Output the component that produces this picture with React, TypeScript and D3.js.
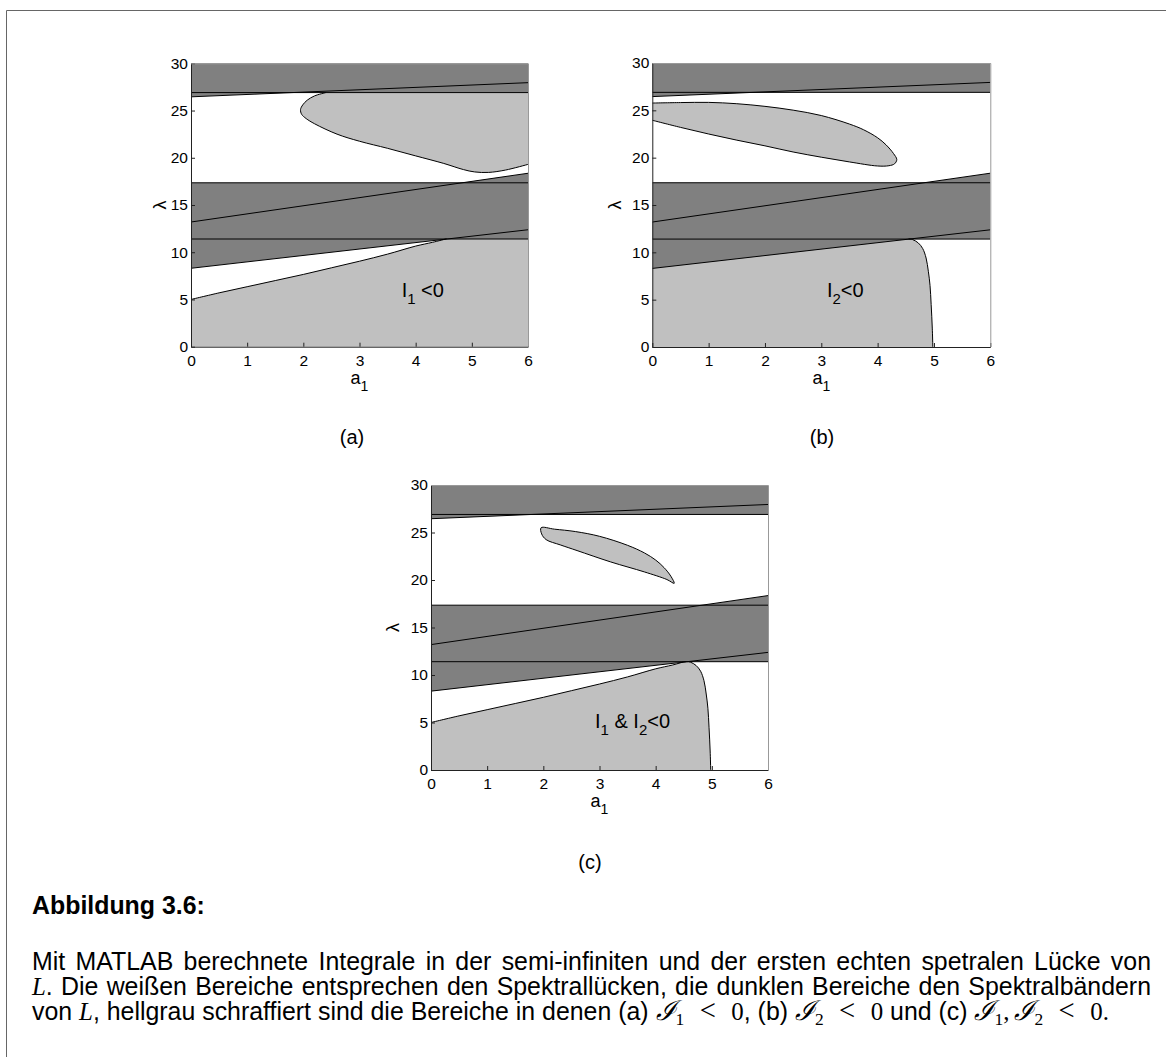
import React, { useEffect, useRef } from 'react';
import * as d3 from 'd3';

// spectral band edges, sampled at a1 = 0 and a1 = 6
const bandA1 = [0, 6];
const upperFlatEdge = [26.9, 26.9];
const upperSlopedEdge = [26.45, 27.95];
const midFlatTop = [17.35, 17.35];
const midFlatBottom = [11.4, 11.4];
const midSlopedTop = [13.2, 18.36];
const midSlopedBottom = [8.3, 12.38];

// I1 < 0 : boundary in the semi-infinite gap
const i1LowA = [0, 0.5, 1, 1.5, 2, 2.5, 3, 3.5, 4, 4.3, 4.55];
const i1LowL = [5.0, 5.7, 6.35, 7.0, 7.65, 8.35, 9.05, 9.8, 10.65, 11.05, 11.42];

// I1 < 0 : boundary in the first gap (band edge -> nose -> a1 = 6)
const i1UpA = [2.4, 2.2, 2.07, 1.99, 1.95, 1.97, 2.05, 2.2, 2.6, 3.0, 3.5, 4.0, 4.5, 4.85, 5.05, 5.3, 5.6, 6.0];
const i1UpL = [26.9, 26.55, 26.1, 25.6, 25.1, 24.6, 24.15, 23.6, 22.5, 21.75, 21.0, 20.2, 19.4, 18.75, 18.5, 18.45, 18.7, 19.3];

// I2 < 0 : lobe in the first gap (top edge, then back along the bottom)
const i2LobeA = [0, 0.5, 1, 1.5, 2, 2.5, 3, 3.5, 3.75, 4.0, 4.15, 4.28, 4.34, 4.3, 4.2, 4.0, 3.5, 3.0, 2.5, 2.0, 1.5, 1.0, 0.5, 0];
const i2LobeL = [25.77, 25.82, 25.84, 25.7, 25.42, 25.02, 24.45, 23.55, 22.95, 22.1, 21.35, 20.45, 19.8, 19.35, 19.15, 19.12, 19.55, 20.05, 20.6, 21.25, 21.85, 22.5, 23.2, 23.95];

// I2 < 0 : right edge in the semi-infinite gap
const i2EdgeA = [4.55, 4.62, 4.72, 4.8, 4.86, 4.9, 4.93, 4.95, 4.97, 4.98];
const i2EdgeL = [11.42, 11.35, 11.0, 10.4, 9.4, 8.0, 6.5, 4.5, 2.0, 0];

// I1 & I2 < 0 : lens in the first gap
const lensA = [1.96, 2.2, 2.57, 3.0, 3.5, 3.8, 4.0, 4.15, 4.27, 4.33, 4.2, 3.8, 3.2, 2.6, 2.3, 2.05, 1.97];
const lensL = [25.5, 25.35, 25.1, 24.6, 23.65, 22.85, 22.1, 21.3, 20.4, 19.65, 20.05, 20.85, 21.9, 23.1, 23.7, 24.25, 24.85];

const xTicks = [0, 1, 2, 3, 4, 5, 6];
const yTicks = [0, 5, 10, 15, 20, 25, 30];

const DARK = '#808080';
const LIGHT = '#c0c0c0';
const SANS = "'Liberation Sans', Arial, Helvetica, sans-serif";
const SERIF = "'Liberation Serif', 'DejaVu Serif', serif";

const zip = (xs: number[], ys: number[]) => xs.map((v, i) => [v, ys[i]] as [number, number]);

type Region = { head?: [number, number][]; curve: [number, number][]; tail?: [number, number][]; closed?: boolean };
type Panel = {
  key: string; left: number; top: number; width: number; height: number;
  lamDx: number; tag: string; tagX: number; tagY: number;
  label: { a: number; l: number; parts: { t: string; sub?: boolean }[] };
  regions: Region[];
};

const panels: Panel[] = [
  {
    key: 'a', left: 191, top: 63.3, width: 337, height: 283.4, lamDx: -31, tag: '(a)', tagX: 352, tagY: 444,
    label: { a: 3.75, l: 5.3, parts: [{ t: 'I' }, { t: '1', sub: true }, { t: '\u00a0<0' }] },
    regions: [
      { curve: zip(i1LowA, i1LowL), tail: [[6, midFlatBottom[1]], [6, 0], [0, 0]] },
      { curve: zip(i1UpA, i1UpL), tail: [[6, upperFlatEdge[1]]] },
    ],
  },
  {
    key: 'b', left: 652.3, top: 63, width: 338, height: 284, lamDx: -38, tag: '(b)', tagX: 822, tagY: 444,
    label: { a: 3.1, l: 5.3, parts: [{ t: 'I' }, { t: '2', sub: true }, { t: '<0' }] },
    regions: [
      { curve: zip(i2LobeA, i2LobeL) },
      { head: [[0, 0], [0, midSlopedBottom[0]]], curve: zip(i2EdgeA, i2EdgeL) },
    ],
  },
  {
    key: 'c', left: 431, top: 485, width: 337, height: 285, lamDx: -38, tag: '(c)', tagX: 590, tagY: 869,
    label: { a: 2.92, l: 4.4, parts: [{ t: 'I' }, { t: '1', sub: true }, { t: ' & I' }, { t: '2', sub: true }, { t: '<0' }] },
    regions: [
      { curve: zip(lensA, lensL), closed: true },
      { curve: zip(i1LowA, i1LowL).concat(zip(i2EdgeA, i2EdgeL).slice(1)), tail: [[0, 0]] },
    ],
  },
];

// caption (m: math in serif, s: script letter, sub: subscript, gap: extra math space in em)
const headingText = 'Abbildung 3.6:';
type Seg = { t: string; m?: boolean; s?: boolean; sub?: boolean; gap?: number; big?: boolean };
const lessThanZero: Seg[] = [{ t: '<', m: true, gap: 0.62, big: true }, { t: '0', m: true, gap: 0.62 }];
const captionLines: Seg[][] = [
  [{ t: 'Mit MATLAB berechnete Integrale in der semi-infiniten und der ersten echten spetralen Lücke von' }],
  [{ t: 'L', m: true }, { t: '. Die weißen Bereiche entsprechen den Spektrallücken, die dunklen Bereiche den Spektralbändern' }],
  [
    { t: 'von ' }, { t: 'L', m: true }, { t: ', hellgrau schraffiert sind die Bereiche in denen (a) ' },
    { t: 'ℐ', s: true }, { t: '1', sub: true }, ...lessThanZero, { t: ', (b) ' },
    { t: 'ℐ', s: true }, { t: '2', sub: true }, ...lessThanZero, { t: ' und (c) ' },
    { t: 'ℐ', s: true }, { t: '1', sub: true }, { t: ',', m: true },
    { t: 'ℐ', s: true, gap: 0.2 }, { t: '2', sub: true }, ...lessThanZero, { t: '.', m: true },
  ],
];

function drawPanel(svg: any, p: Panel) {
  const x = d3.scaleLinear().domain([0, 6]).range([p.left, p.left + p.width]);
  const y = d3.scaleLinear().domain([0, 30]).range([p.top + p.height, p.top]);
  const clipId = 'clip-' + p.key;
  svg.append('clipPath').attr('id', clipId).append('rect')
    .attr('x', p.left).attr('y', p.top).attr('width', p.width).attr('height', p.height);
  const g = svg.append('g').attr('clip-path', `url(#${clipId})`);

  const smooth = d3.line<[number, number]>().x(d => x(d[0])).y(d => y(d[1])).curve(d3.curveCatmullRom.alpha(0.5));
  const smoothClosed = d3.line<[number, number]>().x(d => x(d[0])).y(d => y(d[1])).curve(d3.curveCatmullRomClosed.alpha(0.5));
  const straight = d3.line<[number, number]>().x(d => x(d[0])).y(d => y(d[1]));

  // light grey: region where the integral is negative
  p.regions.forEach(r => {
    let d: string;
    if (r.closed) d = smoothClosed(r.curve)!;
    else {
      const c = smooth(r.curve)!;
      d = r.head ? straight(r.head)! + c.replace(/^M/, 'L') : c;
      if (r.tail) d += straight(r.tail)!.replace(/^M/, 'L');
      d += 'Z';
    }
    g.append('path').attr('d', d).attr('fill', LIGHT);
  });

  // dark grey: spectral bands
  const yMax = y.domain()[1];
  const toTop = d3.area<number>().x((_, i) => x(bandA1[i])).y0(d => y(d)).y1(y(yMax));
  g.append('path').attr('d', toTop(upperFlatEdge)).attr('fill', DARK);
  g.append('path').attr('d', toTop(upperSlopedEdge)).attr('fill', DARK);
  const between = (lo: number[], hi: number[]) =>
    d3.area<number>().x((_, i) => x(bandA1[i])).y0(d => y(d)).y1((_, i) => y(hi[i]))(lo);
  g.append('path').attr('d', between(midFlatBottom, midFlatTop)).attr('fill', DARK);
  g.append('path').attr('d', between(midSlopedBottom, midSlopedTop)).attr('fill', DARK);

  const edge = d3.line<number>().x((_, i) => x(bandA1[i])).y(d => y(d));
  [upperFlatEdge, upperSlopedEdge, midFlatTop, midFlatBottom, midSlopedTop, midSlopedBottom].forEach(e => {
    g.append('path').attr('d', edge(e)).attr('fill', 'none').attr('stroke', '#000').attr('stroke-width', 1);
  });

  // outlines of the light regions
  p.regions.forEach(r => {
    g.append('path').attr('d', r.closed ? smoothClosed(r.curve) : smooth(r.curve))
      .attr('fill', 'none').attr('stroke', '#000').attr('stroke-width', 1);
  });

  // label inside the plot
  const lt = svg.append('text').attr('x', x(p.label.a)).attr('y', y(p.label.l))
    .attr('font-family', SANS).attr('font-size', 20).attr('fill', '#000');
  let shifted = false;
  p.label.parts.forEach(part => {
    const ts = lt.append('tspan').text(part.t);
    if (part.sub) { ts.attr('font-size', 15).attr('dy', 7); shifted = true; }
    else if (shifted) { ts.attr('dy', -7); shifted = false; }
  });

  // axes
  const bottom = p.top + p.height;
  const xa = svg.append('g').attr('transform', `translate(0,${bottom})`)
    .call(d3.axisBottom(x).tickValues(xTicks).tickFormat(d3.format('d')).tickSizeInner(-4).tickSizeOuter(0).tickPadding(8));
  const ya = svg.append('g').attr('transform', `translate(${p.left},0)`)
    .call(d3.axisLeft(y).tickValues(yTicks).tickFormat(d3.format('d')).tickSizeInner(-4).tickSizeOuter(0).tickPadding(3));
  [xa, ya].forEach(ax => {
    ax.attr('font-family', SANS).attr('font-size', 15.5).attr('color', '#222');
    ax.selectAll('text').attr('fill', '#000');
  });
  svg.append('path')
    .attr('d', `M${p.left},${p.top + 0.5}H${p.left + p.width + 0.5}V${bottom}`)
    .attr('fill', 'none').attr('stroke', '#999').attr('stroke-width', 1);

  // axis titles
  const xt = svg.append('text').attr('x', p.left + p.width / 2).attr('y', bottom + 37)
    .attr('text-anchor', 'middle').attr('font-family', SANS).attr('font-size', 18);
  xt.append('tspan').text('a');
  xt.append('tspan').attr('font-size', 14).attr('dy', 7).text('1');
  svg.append('text')
    .attr('transform', `translate(${p.left + p.lamDx},${p.top + p.height / 2}) rotate(-90)`)
    .attr('text-anchor', 'middle').attr('dy', '0.35em')
    .attr('font-family', SANS).attr('font-size', 18).text('λ');

  svg.append('text').attr('x', p.tagX).attr('y', p.tagY).attr('text-anchor', 'middle')
    .attr('font-family', SANS).attr('font-size', 20).text(p.tag);
}

function buildLine(parent: any, segs: Seg[], x: number, y: number, fs: number) {
  const t = parent.append('text').attr('x', x).attr('y', y).attr('font-size', fs);
  const shift = fs * 0.22;
  let shifted = false;
  segs.forEach(s => {
    const ts = t.append('tspan').text(s.t);
    if (s.m) ts.attr('font-family', SERIF).attr('font-style', s.t === 'L' ? 'italic' : 'normal');
    if (s.big) ts.attr('font-size', fs * 1.15);
    if (s.s) ts.attr('font-family', SERIF).attr('font-style', 'italic').attr('font-size', fs * 1.1);
    if (s.gap) ts.attr('dx', s.gap * fs);
    if (s.sub) { ts.attr('font-family', SERIF).attr('font-size', fs * 0.7).attr('dy', shift); shifted = true; }
    else if (shifted) { ts.attr('dy', -shift); shifted = false; }
  });
  return t;
}

export default function App() {
  const ref = useRef<SVGSVGElement>(null);

  useEffect(() => {
    const svg = d3.select(ref.current);
    svg.selectAll('*').remove();

    // page frame (open to the right and bottom)
    svg.append('path').attr('d', 'M6.5,1057V10.5H1166')
      .attr('fill', 'none').attr('stroke', '#666').attr('stroke-width', 1);

    panels.forEach(p => drawPanel(svg, p));

    const left = 32;
    const right = 1151;
    const baselines = [970, 995, 1020];
    const cap = svg.append('g').attr('font-family', SANS).attr('fill', '#000');

    // type size: the second line sits in the text width with near-normal word gaps
    const probe = buildLine(cap, captionLines[1], left, baselines[1], 20);
    const probeW = (probe.node() as SVGTextElement).getComputedTextLength();
    probe.remove();
    const fs = 20 * (right - left - 14) / probeW;

    const texts = captionLines.map((segs, i) => buildLine(cap, segs, left, baselines[i], fs));
    // justify the first two lines by stretching the word gaps
    texts.slice(0, 2).forEach(t => {
      const node = t.node() as SVGTextElement;
      const w = node.getComputedTextLength();
      const spaces = (node.textContent || '').split(' ').length - 1;
      t.attr('word-spacing', ((right - left) - w) / spaces);
    });

    cap.append('text').attr('x', left).attr('y', 914).attr('font-size', fs)
      .attr('font-weight', 'bold').text(headingText);
  }, []);

  return (
    <svg ref={ref} width={1166} height={1057}
      style={{ position: 'absolute', left: 0, top: 0, background: '#fff' }} />
  );
}
